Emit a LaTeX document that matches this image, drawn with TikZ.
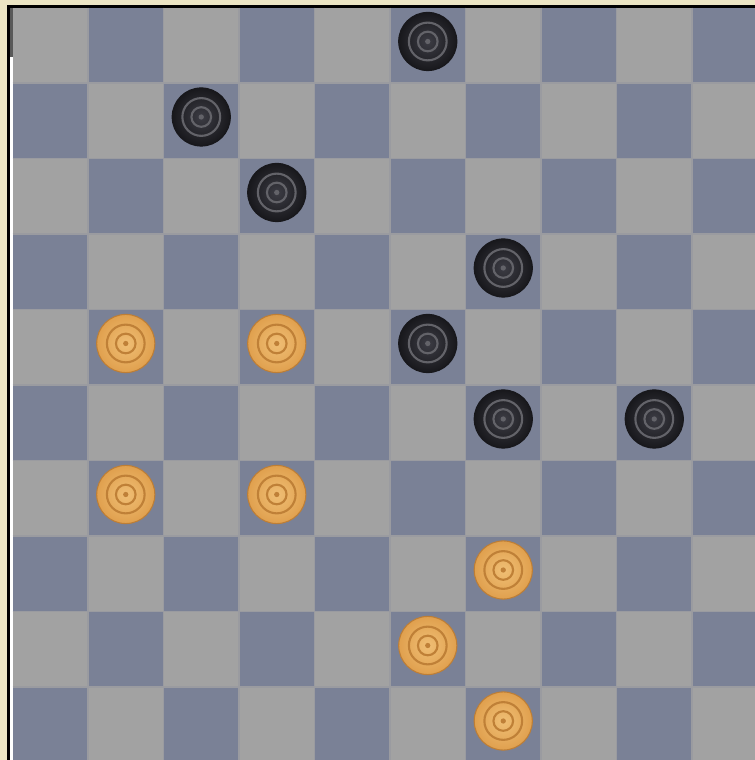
\documentclass[tikz,border=0pt]{standalone}
\usepackage{tikz}

\definecolor{cream}{HTML}{ECE5C4}
\definecolor{lightsq}{HTML}{A2A2A2}
\definecolor{darksq}{HTML}{7A8196}
\definecolor{coal}{HTML}{18181C}
\definecolor{coalhi}{HTML}{3C3C44}
\definecolor{amber}{HTML}{E0A04E}
\definecolor{amberhi}{HTML}{F6CB85}
\definecolor{ambersh}{HTML}{B47530}

\tikzset{
  blackman/.style={circle, minimum size=0.77cm, inner sep=0pt,
    inner color=coalhi, outer color=coal, draw=coal},
  whiteman/.style={circle, minimum size=0.77cm, inner sep=0pt,
    inner color=amberhi!70!amber, outer color=amber, draw=ambersh!80!amber},
  ringb/.style={draw=coalhi!80!white, line width=0.8pt},
  ringw/.style={draw=ambersh!75!amber, line width=0.8pt},
}

\begin{document}
\begin{tikzpicture}
  \useasboundingbox (0,0) rectangle (10,-10.066);
  \fill[cream] (0,0) rectangle (10,-10.066);
  \clip (0,0) rectangle (10,-10.066);
  % --- frame ---
  \fill[black] (0.093,-0.066) rectangle (10.2,-10.2);
  \fill[white] (0.132,-0.755) rectangle (0.17,-10.2);
  \fill[black!65] (0.132,-0.106) rectangle (0.17,-0.755);
  % --- board, rows counted from the top ---
  \begin{scope}[shift={(0.1656,-0.0993)}, yscale=-1]
    \foreach \r in {0,...,10}
      \foreach \c in {0,...,9}{
        \pgfmathtruncatemacro{\sqpar}{mod(\r+\c,2)}
        \ifnum\sqpar=1
          \fill[darksq] (\c,\r) rectangle ++(1,1);
        \else
          \fill[lightsq] (\c,\r) rectangle ++(1,1);
        \fi
      }
    % thin seams between squares
    \foreach \k in {1,...,10}{
      \draw[lightsq!80!darksq, line width=0.5pt] (\k,0) -- (\k,11);
      \draw[lightsq!80!darksq, line width=0.5pt] (0,\k) -- (11,\k);
    }
    % --- dark men ---
    \foreach \c/\r [count=\i] in {5/0, 2/1, 3/2, 6/3, 5/4, 6/5, 8/5}{
      \node[blackman] (b\i) at (\c+0.5,\r+0.45) {};
      \draw[ringb] (b\i.center) circle (0.25);
      \draw[ringb] (b\i.center) circle (0.13);
      \fill[coalhi!80!white] (b\i.center) circle (0.035);
    }
    % --- light men ---
    \foreach \c/\r [count=\i] in {1/4, 3/4, 1/6, 3/6, 6/7, 5/8, 6/9}{
      \node[whiteman] (w\i) at (\c+0.5,\r+0.45) {};
      \draw[ringw] (w\i.center) circle (0.25);
      \draw[ringw] (w\i.center) circle (0.13);
      \fill[ambersh!75!amber] (w\i.center) circle (0.035);
    }
  \end{scope}
\end{tikzpicture}
\end{document}
